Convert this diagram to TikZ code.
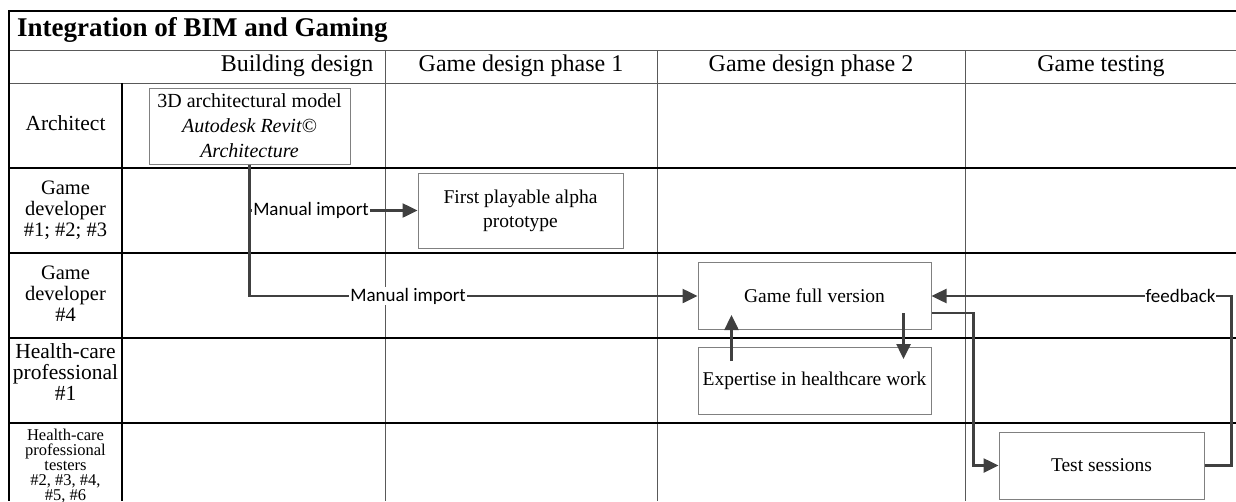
\documentclass[tikz,border=0pt]{standalone}
\usepackage{fontspec}
\setmainfont{Liberation Serif}
\newfontfamily\flowfont{Carlito}
\usetikzlibrary{arrows.meta}

\begin{document}
\begin{tikzpicture}[x=1pt,y=-1pt,
  box/.style={rectangle,draw=black!50,line width=1pt,inner sep=2pt,
    align=center,font=\fontsize{19.5}{24}\selectfont},
  to/.style={-{Triangle[length=15pt,width=14pt]},line width=2.5pt,draw=black!75},
  lane/.style={align=center,font=\fontsize{20.5}{21}\selectfont},
  phase/.style={font=\fontsize{24}{26}\selectfont},
  tag/.style={fill=white,inner sep=1pt,font=\flowfont\fontsize{19}{21}\selectfont},
  colline/.style={draw=black!65,line width=1pt},
  laneline/.style={draw=black,line width=2.2pt}]

  \useasboundingbox (0,0) rectangle (1236,501);

  % table
  \foreach \x in {385,657,965} \draw[colline] (\x,50) -- (\x,501);
  \draw[colline] (9,50) -- (1236,50);
  \draw[colline] (9,83) -- (1236,83);
  \draw[laneline] (9,11) -- (1236,11);
  \draw[laneline] (9,10) -- (9,501);
  \draw[laneline] (122,83) -- (122,501);
  \foreach \y in {168,253,338,423} \draw[laneline] (9,\y) -- (1236,\y);

  \node[anchor=west,inner sep=0pt,font=\bfseries\fontsize{27}{29}\selectfont] (title) at (17,30) {Integration of BIM and Gaming};
  \node[phase,anchor=east] (bd) at (377,66) {Building design};
  \node[phase] (gd1) at (521,66) {Game design phase 1};
  \node[phase] (gd2) at (811,66) {Game design phase 2};
  \node[phase] (gt) at (1101,66) {Game testing};

  \node[lane,font=\fontsize{21.5}{23}\selectfont] (arch) at (65.5,123) {Architect};
  \node[lane] (dev1) at (65.5,210) {Game\\developer\\\#1; \#2; \#3};
  \node[lane] (dev4) at (65.5,294) {Game\\developer\\\#4};
  \node[lane,font=\fontsize{21.5}{21}\selectfont] (hcp) at (65.5,372) {Health-care\\professional\\\#1};
  \node[lane,font=\fontsize{16.5}{15}\selectfont] (testers) at (65.5,466) {Health-care\\professional\\testers\\\#2, \#3, \#4,\\\#5, \#6};

  % boxes
  \node[box,minimum width=201pt,minimum height=76pt,font=\fontsize{20}{25}\selectfont] (model) at (249.5,126)
    {3D architectural model\\\textit{Autodesk Revit©}\\\textit{Architecture}};
  \node[box,minimum width=205pt,minimum height=75pt] (alpha) at (520.5,210.5) {First playable alpha\\prototype};
  \node[box,minimum width=233pt,minimum height=67pt] (full) at (814.5,296) {Game full version};
  \node[box,minimum width=233pt,minimum height=67pt] (expert) at (814.5,381) {Expertise in healthcare work};
  \node[box,minimum width=205pt,minimum height=67pt] (test) at (1101.5,465.5) {Test sessions};

  % flows
  \coordinate (split) at (model.south |- alpha.west);
  \draw[to] (split) -- node[tag,anchor=west,pos=0,xshift=1.5pt]{Manual import} (alpha.west);
  \draw[to] (model.south) |- node[tag,pos=0.677]{Manual import} (full.west);
  \draw[to] ([xshift=34pt,yshift=-14pt]expert.north west) -- ([xshift=34pt,yshift=15pt]full.south west);
  \draw[to] ([xshift=-28pt,yshift=17pt]full.south east) -- ([xshift=-28pt,yshift=-12pt]expert.north east);
  \draw[to] ([yshift=-17pt]full.east) -- ++(42,0) |- (test.west);
  \draw[to] (test.east) -- ++(27,0) |- node[tag,pos=0.585]{feedback} (full.east);
\end{tikzpicture}
\end{document}
